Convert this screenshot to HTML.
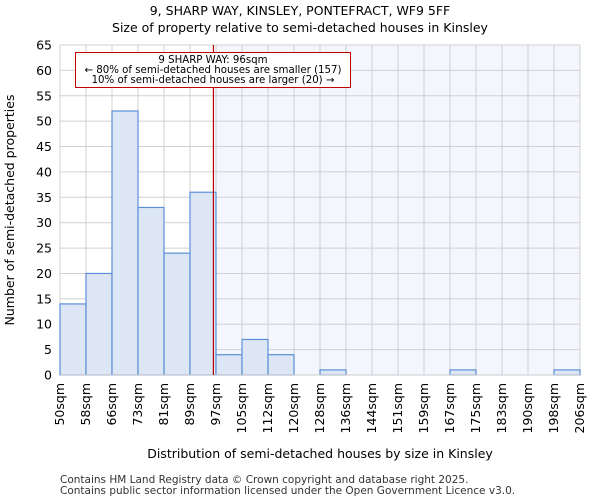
<!DOCTYPE html>
<html><head><meta charset="utf-8"><style>
body{margin:0;background:#fff;font-family:"DejaVu Sans","Liberation Sans",sans-serif}
</style></head><body>
<svg width="600" height="500" xmlns="http://www.w3.org/2000/svg" font-family="DejaVu Sans, Liberation Sans, sans-serif">
<text x="300" y="15" text-anchor="middle" font-size="12.5">9, SHARP WAY, KINSLEY, PONTEFRACT, WF9 5FF</text>
<text x="300" y="32" text-anchor="middle" font-size="12.5">Size of property relative to semi-detached houses in Kinsley</text>
<g id="plot"></g>
<text x="14" y="210" text-anchor="middle" font-size="12.5" transform="rotate(-90 14 210)">Number of semi-detached properties</text>
<text x="320" y="458" text-anchor="middle" font-size="12.5">Distribution of semi-detached houses by size in Kinsley</text>
<text x="60" y="483" font-size="10.5" fill="#333">Contains HM Land Registry data © Crown copyright and database right 2025.</text>
<text x="60" y="494" font-size="10.5" fill="#333">Contains public sector information licensed under the Open Government Licence v3.0.</text>
</svg>
<script>
const edges=[50,58,66,73,81,89,97,105,112,120,128,136,144,151,159,167,175,183,190,198,206];
const counts=[14,20,52,33,24,36,4,7,4,0,1,0,0,0,0,1,0,0,0,1];
const yTicks=[0,5,10,15,20,25,30,35,40,45,50,55,60,65];
const propertyBinPos=5.9;
const X0=60,X1=580,Y0=375,Y1=45,yMax=65;
const bw=(X1-X0)/counts.length;
const xb=i=>X0+i*bw;
const y=v=>Y0-(v/yMax)*(Y0-Y1);
const NS="http://www.w3.org/2000/svg";
const g=document.getElementById('plot');
function mk(t,a){const e=document.createElementNS(NS,t);for(const k in a)e.setAttribute(k,a[k]);g.appendChild(e);return e;}
const lx=xb(propertyBinPos);
let sh=mk('rect',{x:lx,y:Y1,width:X1-lx,height:Y0-Y1,fill:'#f3f6fd'});


yTicks.forEach(t=>{
 let l=mk('line',{x1:X0,x2:X1,y1:y(t),y2:y(t),stroke:'#d0d0d0','stroke-width':1});
 
 
 let tx=mk('text',{x:X0-8,y:y(t)+4.5,'text-anchor':'end','font-size':'12.5'});
 tx.textContent=t;
 
 
});
edges.forEach((e,i)=>{
 let l=mk('line',{x1:xb(i),x2:xb(i),y1:Y1,y2:Y0,stroke:'#d0d0d0','stroke-width':1});
 
 
 const cx=xb(i)+4,cy=Y0+8;
 let tx=mk('text',{x:cx,y:cy,'text-anchor':'end','font-size':'12.5',transform:`rotate(-90 ${cx} ${cy})`});
 tx.textContent=e+'sqm';
 
 
});
counts.forEach((c,i)=>{
 if(c<=0)return;
 let r=mk('rect',{x:xb(i),y:y(c),width:bw,height:Y0-y(c),fill:'#dce6f5',stroke:'#5b8fd6','stroke-width':1.2});
 
 
});
let ax=mk('line',{x1:X0,x2:X1,y1:Y0,y2:Y0,stroke:'#ccc'});


let rl=mk('line',{x1:lx,x2:lx,y1:Y1,y2:Y0,stroke:'#c00000','stroke-width':1.2});


let box=mk('rect',{x:75.5,y:52.5,width:275,height:35,fill:'#fff',stroke:'#c00000','stroke-width':1});


['9 SHARP WAY: 96sqm','← 80% of semi-detached houses are smaller (157)','10% of semi-detached houses are larger (20) →'].forEach((s,i)=>{
 let t=mk('text',{x:213,y:63+i*10,'text-anchor':'middle','font-size':'10.2'});
 t.textContent=s;
 
 
});
</script>
</body></html>
